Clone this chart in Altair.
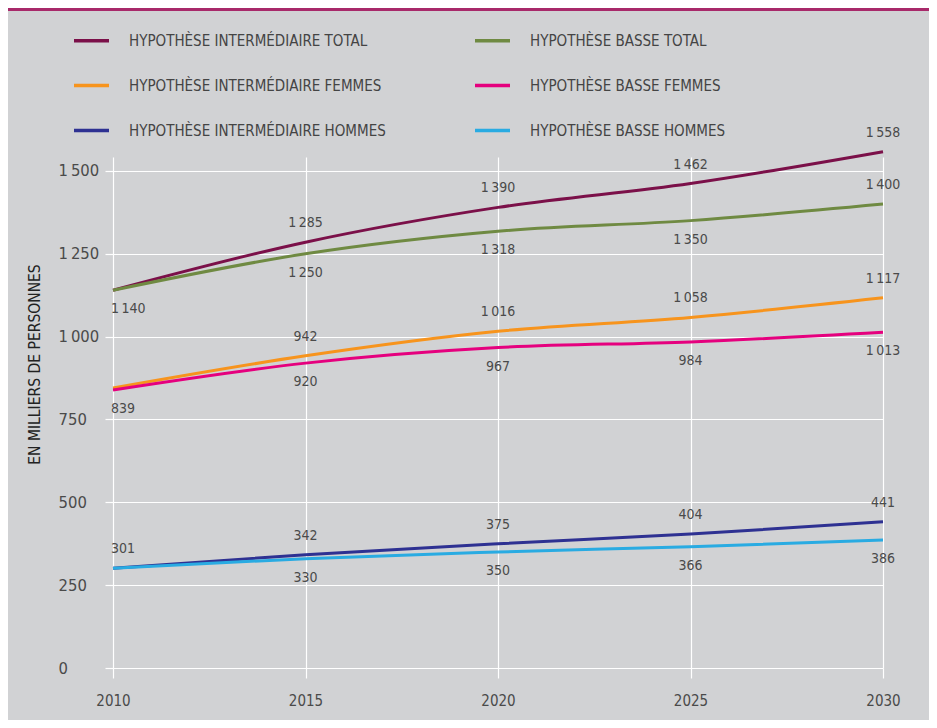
import altair as alt
import pandas as pd

FONT = "DejaVu Sans Condensed, Liberation Sans Narrow, sans-serif"

years = [2010, 2015, 2020, 2025, 2030]
series_names = [
    "HYPOTHÈSE INTERMÉDIAIRE TOTAL", "HYPOTHÈSE INTERMÉDIAIRE FEMMES",
    "HYPOTHÈSE INTERMÉDIAIRE HOMMES", "HYPOTHÈSE BASSE TOTAL",
    "HYPOTHÈSE BASSE FEMMES", "HYPOTHÈSE BASSE HOMMES",
]
series_colors = ["#7b1049", "#f7941d", "#2e3192", "#6f8a42", "#e5007e", "#29abe2"]

inter_total = [1140, 1285, 1390, 1462, 1558]
inter_femmes = [845, 942, 1016, 1058, 1117]
inter_hommes = [301, 342, 375, 404, 441]
basse_total = [1140, 1250, 1318, 1350, 1400]
basse_femmes = [839, 920, 967, 984, 1013]
basse_hommes = [301, 330, 350, 366, 386]

# labels shown on the chart
label_years = [2010, 2010, 2010,
               2015, 2015, 2015, 2015, 2015, 2015,
               2020, 2020, 2020, 2020, 2020, 2020,
               2025, 2025, 2025, 2025, 2025, 2025,
               2030, 2030, 2030, 2030, 2030, 2030]
label_values = [1140, 839, 301,
                1285, 1250, 942, 920, 342, 330,
                1390, 1318, 1016, 967, 375, 350,
                1462, 1350, 1058, 984, 404, 366,
                1558, 1400, 1117, 1013, 441, 386]
label_sides = ["below", "below", "above",
               "above", "below", "above", "below", "above", "below",
               "above", "below", "above", "below", "above", "below",
               "above", "below", "above", "below", "above", "below",
               "above", "above", "above", "below", "above", "below"]

y_ticks = [0, 250, 500, 750, 1000, 1250, 1500]

all_series = [inter_total, inter_femmes, inter_hommes, basse_total, basse_femmes, basse_hommes]
rows = []
for name, vals in zip(series_names, all_series):
    for yr, v in zip(years, vals):
        rows.append({"series": name, "year": yr, "value": v})
df = pd.DataFrame(rows)

lab = pd.DataFrame({"year": label_years, "value": label_values, "side": label_sides})
lab["text"] = [f"{v:,}".replace(",", "\u2009") for v in label_values]
lab["first"] = lab["year"] == 2010

xscale = alt.Scale(domain=[2010, 2030], nice=False)
yscale = alt.Scale(domain=[0, 1542], nice=False)

lines = alt.Chart(df).mark_line(strokeWidth=3, interpolate="monotone").encode(
    x=alt.X("year:Q", scale=xscale, title=None,
            axis=alt.Axis(values=years, format="d", grid=True, gridColor="white",
                          gridWidth=1.2, domain=False, ticks=True, tickColor="white",
                          tickSize=10, tickWidth=1.2, labelFont=FONT, labelFontSize=15,
                          labelColor="#4a4a4a", labelPadding=15, labelFlush=False)),
    y=alt.Y("value:Q", scale=yscale, title="EN MILLIERS DE PERSONNES",
            axis=alt.Axis(values=y_ticks, grid=True, gridColor="white", gridWidth=1.2,
                          domain=False, ticks=True, tickColor="white", tickSize=8,
                          tickWidth=1.2, labelFont=FONT, labelFontSize=16.5,
                          labelColor="#4a4a4a", labelAlign="left", labelPadding=47,
                          labelExpr="replace(format(datum.value, ',d'), ',', '\u2009')",
                          titleFont=FONT, titleFontSize=15.5, titleFontWeight="normal",
                          titleColor="#222222", titleX=-79, titleY=207,
                          titleAngle=270, titleAlign="center", titleBaseline="middle")),
    color=alt.Color("series:N", scale=alt.Scale(domain=series_names, range=series_colors),
                    legend=alt.Legend(orient="none", legendX=-41, legendY=-136, columns=2,
                                      title=None, symbolType="stroke", symbolSize=1225,
                                      symbolStrokeWidth=3.5, labelFont=FONT, labelFontSize=15,
                                      labelColor="#444444", labelOffset=18, rowPadding=17,
                                      columnPadding=82, padding=0, labelLimit=500)),
    order=alt.Order("year:Q"),
)

def text_layer(side, first):
    dy = -19 if side == "above" else 19
    align = "left" if first else "center"
    dx = -2 if first else 0
    return alt.Chart(lab).transform_filter(
        (alt.datum.side == side) & (alt.datum.first == first)
    ).mark_text(font=FONT, fontSize=14, color="#4a4a4a", dy=dy, dx=dx, align=align,
                baseline="middle").encode(
        x=alt.X("year:Q", scale=xscale),
        y=alt.Y("value:Q", scale=yscale),
        text="text:N",
    )

texts = [text_layer(s, f) for s in ["above", "below"] for f in [True, False]]

band = alt.Chart(pd.DataFrame({"a": [0]})).mark_rect(color="#a8296a").encode(
    x=alt.value(-105), x2=alt.value(816), y=alt.value(-149), y2=alt.value(-146)
)

chart = alt.layer(band, lines, *texts).properties(
    width=770, height=511,
    autosize=alt.AutoSizeParams(type="none"),
    padding={"left": 105, "top": 149, "right": 46, "bottom": 52},
    background="#d1d2d4",
).configure_view(stroke=None)

chart.save("out.html", embed_options={"renderer": "svg", "actions": False})
